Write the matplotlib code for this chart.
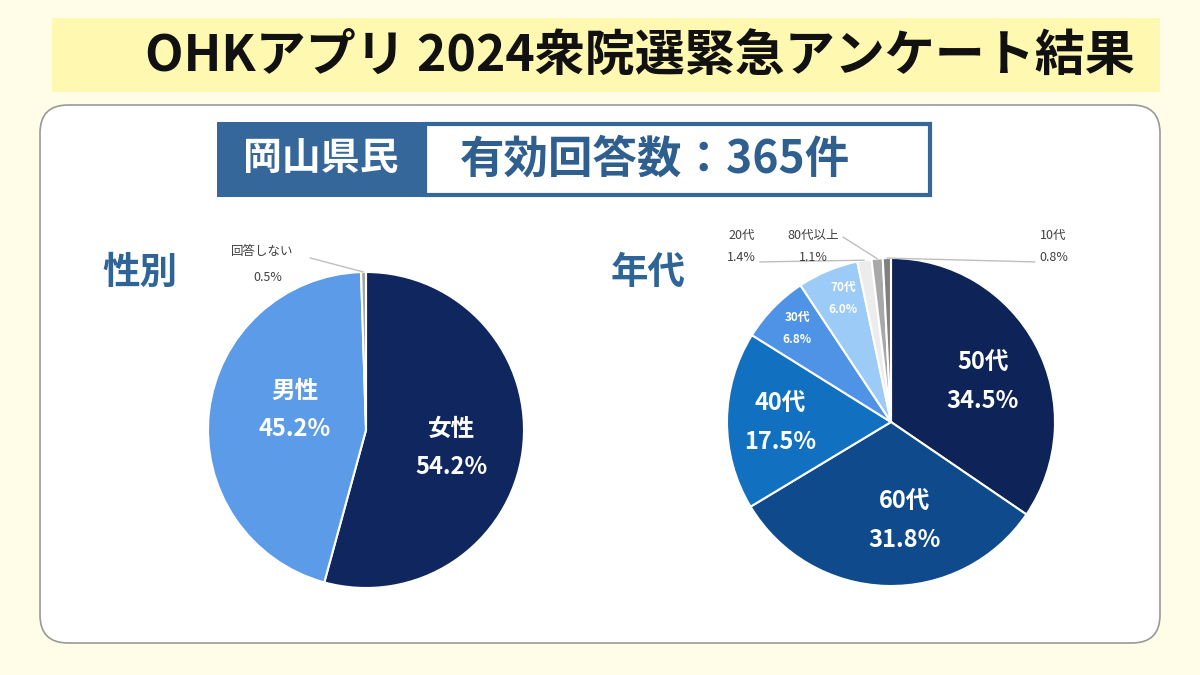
import numpy as np
import matplotlib
matplotlib.use('Agg')
import matplotlib.pyplot as plt
from matplotlib.patches import FancyBboxPatch, Rectangle

plt.rcParams['font.family'] = ['Noto Sans CJK JP', 'DejaVu Sans']

# data
gender_labels = ['女性', '男性', '回答しない']
gender_values = [54.2, 45.2, 0.5]
gender_colors = ['#10265e', '#5b9be8', '#a6a6a6']

age_labels = ['50代', '60代', '40代', '30代', '70代', '20代', '80代以上', '10代']
age_values = [34.5, 31.8, 17.5, 6.8, 6.0, 1.4, 1.1, 0.8]
age_colors = ['#0e2358', '#0f4a8c', '#1170bf', '#4f93e6', '#9ccbf8',
              '#ececec', '#a8a8a8', '#808080']

title = 'OHKアプリ 2024衆院選緊急アンケート結果'
region = '岡山県民'
n_text = '有効回答数：365件'

W, H = 1200, 675
fig = plt.figure(figsize=(12, 6.75), dpi=100)
fig.patch.set_facecolor('#fffde8')

# background layer in pixel coords
bg = fig.add_axes([0, 0, 1, 1], zorder=0)
bg.set_xlim(0, W)
bg.set_ylim(H, 0)
bg.axis('off')

bg.add_patch(Rectangle((52, 18), 1108, 74, color='#fff8b0', lw=0))
bg.text(640, 56, title, ha='center', va='center', fontsize=36,
        fontweight='bold', color='#111111')

bg.add_patch(FancyBboxPatch((40, 105), 1120, 538,
                            boxstyle='round,pad=0,rounding_size=28',
                            fc='white', ec='#999999', lw=1.2))

bg.add_patch(Rectangle((217, 122), 208, 75, color='#35679a', lw=0))
bg.add_patch(Rectangle((425, 124), 505, 71, fc='white', ec='#35679a', lw=3))
bg.text(321, 158, region, ha='center', va='center', fontsize=28,
        fontweight='bold', color='white')
bg.text(655, 160, n_text, ha='center', va='center', fontsize=32,
        fontweight='bold', color='#2f5f8f')

bg.text(140, 272, '性別', ha='center', va='center', fontsize=27,
        fontweight='bold', color='#2f6496')
bg.text(648, 272, '年代', ha='center', va='center', fontsize=27,
        fontweight='bold', color='#2f6496')


def pie_axes(cx, cy, r):
    ax = fig.add_axes([(cx - r) / W, (H - cy - r) / H, 2 * r / W, 2 * r / H], zorder=2)
    ax.set_xlim(-1, 1)
    ax.set_ylim(-1, 1)
    ax.axis('off')
    return ax


def mid_point(w):
    a = np.deg2rad((w.theta1 + w.theta2) / 2)
    return np.cos(a), np.sin(a)


# gender pie
ax1 = pie_axes(366, 430, 158)
wedges1, _ = ax1.pie(gender_values, colors=gender_colors, startangle=90,
                     counterclock=False, radius=1,
                     wedgeprops=dict(edgecolor='white', linewidth=1.5))
ax1.set_xlim(-1, 1)
ax1.set_ylim(-1, 1)
ax1.set_aspect('auto')

g_pos = [(0.544, -0.114), (-0.45, 0.127)]
for i, (x, y) in enumerate(g_pos):
    ax1.text(x, y, f'{gender_labels[i]}\n{gender_values[i]:.1f}%', ha='center',
             va='center', fontsize=17, fontweight='bold', color='white',
             linespacing=1.75)
ax1.text(-0.66, 1.127, gender_labels[2], ha='center', va='center', fontsize=9,
         color='#404040', clip_on=False)
ax1.text(-0.62, 0.968, f'{gender_values[2]:.1f}%', ha='center', va='center',
         fontsize=9, color='#404040', clip_on=False)
ax1.annotate('', xy=mid_point(wedges1[2]), xytext=(-0.354, 1.089),
             arrowprops=dict(arrowstyle='-', color='#bfbfbf', lw=1,
                             shrinkA=0, shrinkB=0), annotation_clip=False)

# age pie
ax2 = pie_axes(891, 422, 164)
wedges2, _ = ax2.pie(age_values, colors=age_colors, startangle=90,
                     counterclock=False, radius=1,
                     wedgeprops=dict(edgecolor='white', linewidth=1.5))
ax2.set_xlim(-1, 1)
ax2.set_ylim(-1, 1)
ax2.set_aspect('auto')

big_pos = [(0.56, 0.244), (0.085, -0.604), (-0.677, -0.006)]
for i, (x, y) in enumerate(big_pos):
    ax2.text(x, y, f'{age_labels[i]}\n{age_values[i]:.1f}%', ha='center',
             va='center', fontsize=17, fontweight='bold', color='white',
             linespacing=1.75)
small_pos = [(-0.573, 0.573), (-0.293, 0.756)]
for j, (x, y) in enumerate(small_pos):
    i = j + 3
    ax2.text(x, y, f'{age_labels[i]}\n{age_values[i]:.1f}%', ha='center',
             va='center', fontsize=8.5, fontweight='bold', color='white',
             linespacing=1.9)

out_pos = [(-0.91, 1.14, -0.80, 0.976), (-0.476, 1.14, -0.293, 1.128),
           (0.99, 1.14, 0.878, 0.976)]
for j, (x, y, lx, ly) in enumerate(out_pos):
    i = j + 5
    ax2.text(x, y, age_labels[i], ha='center', va='center', fontsize=9,
             color='#404040', clip_on=False)
    ax2.text(x, y - 0.134, f'{age_values[i]:.1f}%', ha='center', va='center',
             fontsize=9, color='#404040', clip_on=False)
    ax2.annotate('', xy=mid_point(wedges2[i]), xytext=(lx, ly),
                 arrowprops=dict(arrowstyle='-', color='#bfbfbf', lw=1,
                                 shrinkA=0, shrinkB=0), annotation_clip=False)

fig.savefig('out.png', dpi=100, facecolor=fig.get_facecolor())
